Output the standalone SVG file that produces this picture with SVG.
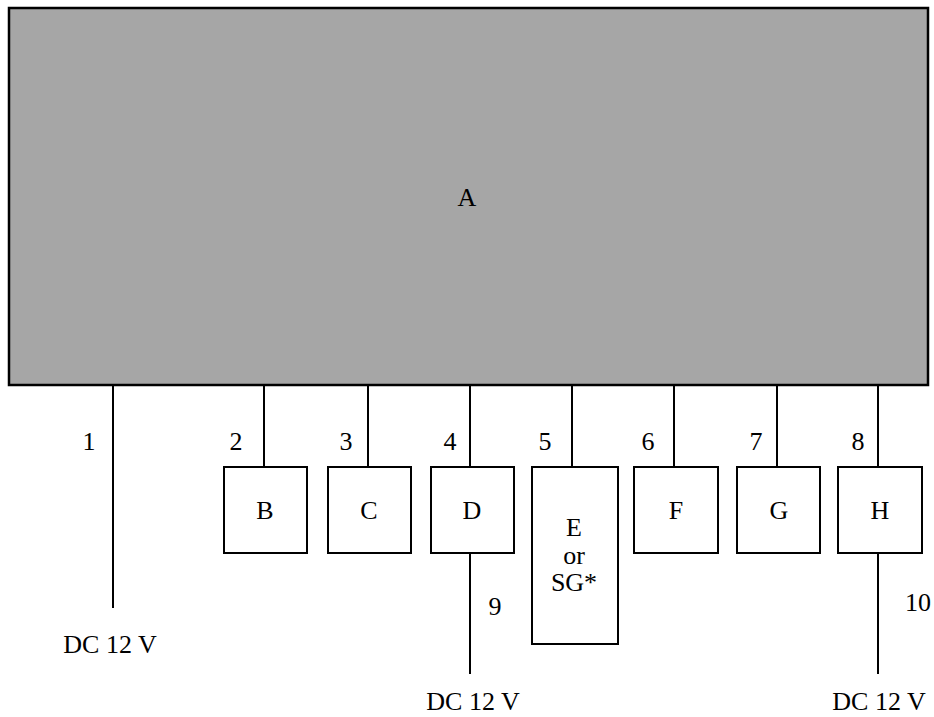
<svg xmlns="http://www.w3.org/2000/svg" width="934" height="717" viewBox="0 0 934 717">
<style>
text{font-family:"Liberation Serif","Times New Roman",Times,serif;font-size:26px;fill:#000;text-anchor:middle}
.box{fill:#fff;stroke:#000;stroke-width:2}
.wire{stroke:#000;stroke-width:2;fill:none}
</style>
<rect width="934" height="717" fill="#fff"/>
<g id="nodeA"><rect x="9" y="8" width="919" height="377" fill="#a6a6a6" stroke="#000" stroke-width="2.5"/><text x="467" y="206">A</text></g>
<g id="connectors">
<line class="wire" x1="113" y1="386" x2="113" y2="608"/>
<line class="wire" x1="264" y1="386" x2="264" y2="467"/>
<line class="wire" x1="368" y1="386" x2="368" y2="467"/>
<line class="wire" x1="470" y1="386" x2="470" y2="467"/>
<line class="wire" x1="572" y1="386" x2="572" y2="467"/>
<line class="wire" x1="674" y1="386" x2="674" y2="467"/>
<line class="wire" x1="777" y1="386" x2="777" y2="467"/>
<line class="wire" x1="878" y1="386" x2="878" y2="467"/>
<line class="wire" x1="470" y1="553" x2="470" y2="674"/>
<line class="wire" x1="878" y1="553" x2="878" y2="674"/>
<text x="89" y="450">1</text>
<text x="236" y="450">2</text>
<text x="346" y="450">3</text>
<text x="450" y="450">4</text>
<text x="545" y="450">5</text>
<text x="648" y="450">6</text>
<text x="756" y="450">7</text>
<text x="858" y="450">8</text>
<text x="495" y="615">9</text>
<text x="918" y="611">10</text>
<text x="110" y="653">DC 12 V</text>
<text x="473" y="710">DC 12 V</text>
<text x="879" y="710">DC 12 V</text>
</g>
<g id="nodeB"><rect class="box" x="224" y="467" width="83" height="86"/><text x="265" y="519">B</text></g>
<g id="nodeC"><rect class="box" x="328" y="467" width="83" height="86"/><text x="369" y="519">C</text></g>
<g id="nodeD"><rect class="box" x="431" y="467" width="83" height="86"/><text x="472" y="519">D</text></g>
<g id="nodeE"><rect class="box" x="532" y="467" width="86" height="177"/><text x="574" y="536">E</text><text x="574" y="564">or</text><text x="574" y="591">SG*</text></g>
<g id="nodeF"><rect class="box" x="634" y="467" width="84" height="86"/><text x="676" y="519">F</text></g>
<g id="nodeG"><rect class="box" x="737" y="467" width="83" height="86"/><text x="779" y="519">G</text></g>
<g id="nodeH"><rect class="box" x="838" y="467" width="84" height="86"/><text x="880" y="519">H</text></g>
</svg>
